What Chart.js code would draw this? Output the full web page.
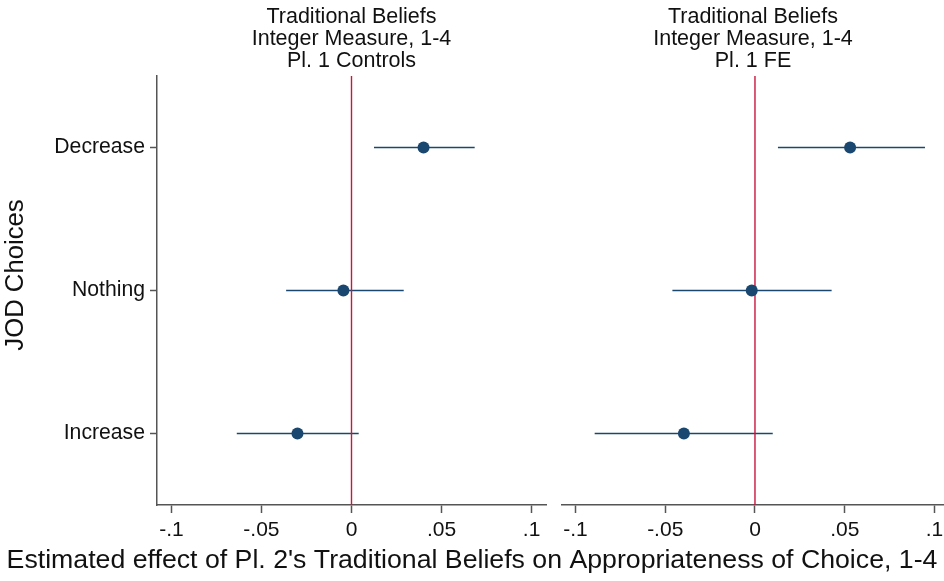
<!DOCTYPE html>
<html>
<head>
<meta charset="utf-8">
<script src="https://cdn.jsdelivr.net/npm/chart.js@4/dist/chart.umd.min.js"></script>
<style>
  html, body { margin: 0; padding: 0; background: #ffffff; }
  #wrap { position: relative; width: 944px; height: 581px; }
  #wrap canvas { position: absolute; left: 0; top: 0; }
</style>
</head>
<body>
<div id="wrap">
  <canvas id="left" width="944" height="581"></canvas>
  <canvas id="right" width="944" height="581"></canvas>
</div>
<script>
// Choice categories, bottom to top (y = 1, 2, 3)
const categories = ['Increase', 'Nothing', 'Decrease'];

// Panel 1: Pl. 1 controls — point estimates and confidence bounds
const leftEst = [-0.0300, -0.0045, 0.0400];
const leftLo  = [-0.0637, -0.0363, 0.0125];
const leftHi  = [ 0.0040,  0.0290, 0.0684];

// Panel 2: Pl. 1 fixed effects
const rightEst = [-0.0396, -0.0018, 0.0530];
const rightLo  = [-0.0893, -0.0460, 0.0128];
const rightHi  = [ 0.0099,  0.0427, 0.0947];

const xTicks = [-0.1, -0.05, 0, 0.05, 0.1];

const leftTitle  = ['Traditional Beliefs', 'Integer Measure, 1-4', 'Pl. 1 Controls'];
const rightTitle = ['Traditional Beliefs', 'Integer Measure, 1-4', 'Pl. 1 FE'];
const yTitle = 'JOD Choices';
const xTitle = "Estimated effect of Pl. 2's Traditional Beliefs on Appropriateness of Choice, 1-4";

const FONT = "'Liberation Sans', Arial, Helvetica, sans-serif";
const NAVY = '#1a476f';
const ZERO = '#c8163e';
const AXIS = '#555555';
const TEXT = '#111111';

function fmtTick(v) {
  if (Math.abs(v) < 1e-9) return '0';
  const s = String(Math.round(v * 1000) / 1000);
  return s.replace(/^(-?)0\./, '$1.');
}

// Draws the stacked panel heading above the plot area
const panelTitle = {
  id: 'panelTitle',
  afterDraw(chart, args, opts) {
    const ctx = chart.ctx;
    const ca = chart.chartArea;
    const cx = (ca.left + ca.right) / 2;
    ctx.save();
    ctx.fillStyle = TEXT;
    ctx.font = '21.5px ' + FONT;
    ctx.textAlign = 'center';
    ctx.textBaseline = 'alphabetic';
    const baselines = [23, 45, 67];
    opts.lines.forEach((t, i) => ctx.fillText(t, cx, baselines[i]));
    if (opts.axisTitles) {
      ctx.font = '26.7px ' + FONT;
      ctx.textBaseline = 'middle';
      ctx.fillText(xTitle, 472, 561);
      ctx.font = '25.7px ' + FONT;
      ctx.translate(16, 275);
      ctx.rotate(-Math.PI / 2);
      ctx.fillText(yTitle, 0, 0);
    }
    ctx.restore();
  }
};

function buildChart(id, est, lo, hi, cfg) {
  const datasets = [];
  est.forEach((v, i) => {
    datasets.push({
      data: [{ x: lo[i], y: i + 1 }, { x: hi[i], y: i + 1 }],
      showLine: true,
      borderColor: NAVY,
      borderWidth: 1.7,
      pointRadius: 0,
      order: 3
    });
  });
  datasets.push({
    data: [{ x: 0, y: 0.5 }, { x: 0, y: 3.5 }],
    showLine: true,
    borderColor: ZERO,
    borderWidth: 1.4,
    pointRadius: 0,
    order: 2
  });
  datasets.push({
    data: est.map((v, i) => ({ x: v, y: i + 1 })),
    showLine: false,
    pointRadius: 6,
    pointBackgroundColor: NAVY,
    pointBorderColor: NAVY,
    pointBorderWidth: 0,
    order: 1
  });

  return new Chart(document.getElementById(id), {
    type: 'scatter',
    data: { datasets },
    plugins: [panelTitle],
    options: {
      responsive: false,
      animation: false,
      devicePixelRatio: 1,
      layout: { padding: cfg.padding, autoPadding: false },
      plugins: {
        legend: { display: false },
        tooltip: { enabled: false },
        panelTitle: { lines: cfg.title, axisTitles: cfg.axisTitles }
      },
      scales: {
        x: {
          type: 'linear',
          min: cfg.xMin,
          max: cfg.xMax,
          afterBuildTicks: s => { s.ticks = xTicks.map(v => ({ value: v })); },
          afterFit: s => { s.height = 76; s.paddingLeft = 0; s.paddingRight = 0; },
          ticks: {
            callback: v => fmtTick(v),
            color: TEXT,
            font: { family: FONT, size: 21 },
            padding: 5,
            maxRotation: 0,
            autoSkip: false
          },
          grid: {
            drawOnChartArea: false,
            drawTicks: true,
            tickLength: 8,
            tickWidth: 1.5,
            color: AXIS
          },
          border: { display: true, color: AXIS, width: 1.5 }
        },
        y: {
          type: 'linear',
          display: cfg.showY,
          min: 0.5,
          max: 3.5,
          afterBuildTicks: s => { s.ticks = categories.map((c, i) => ({ value: i + 1 })); },
          afterFit: s => { if (cfg.showY) s.width = 157; s.paddingTop = 0; s.paddingBottom = 0; },
          ticks: {
            callback: v => categories[Math.round(v) - 1],
            color: TEXT,
            font: { family: FONT, size: 21.2 },
            padding: 5,
            autoSkip: false
          },
          grid: {
            drawOnChartArea: false,
            drawTicks: true,
            tickLength: 7,
            tickWidth: 1.5,
            color: AXIS
          },
          border: { display: true, color: AXIS, width: 1.5 }
        }
      }
    }
  });
}

buildChart('left', leftEst, leftLo, leftHi, {
  padding: { left: 0, right: 944 - 546, top: 76, bottom: 0 },
  xMin: -0.108, xMax: 0.108,
  showY: true,
  title: leftTitle,
  axisTitles: true
});

buildChart('right', rightEst, rightLo, rightHi, {
  padding: { left: 562, right: 0, top: 76, bottom: 0 },
  xMin: -0.1075, xMax: 0.1053,
  showY: false,
  title: rightTitle,
  axisTitles: false
});
</script>
</body>
</html>
